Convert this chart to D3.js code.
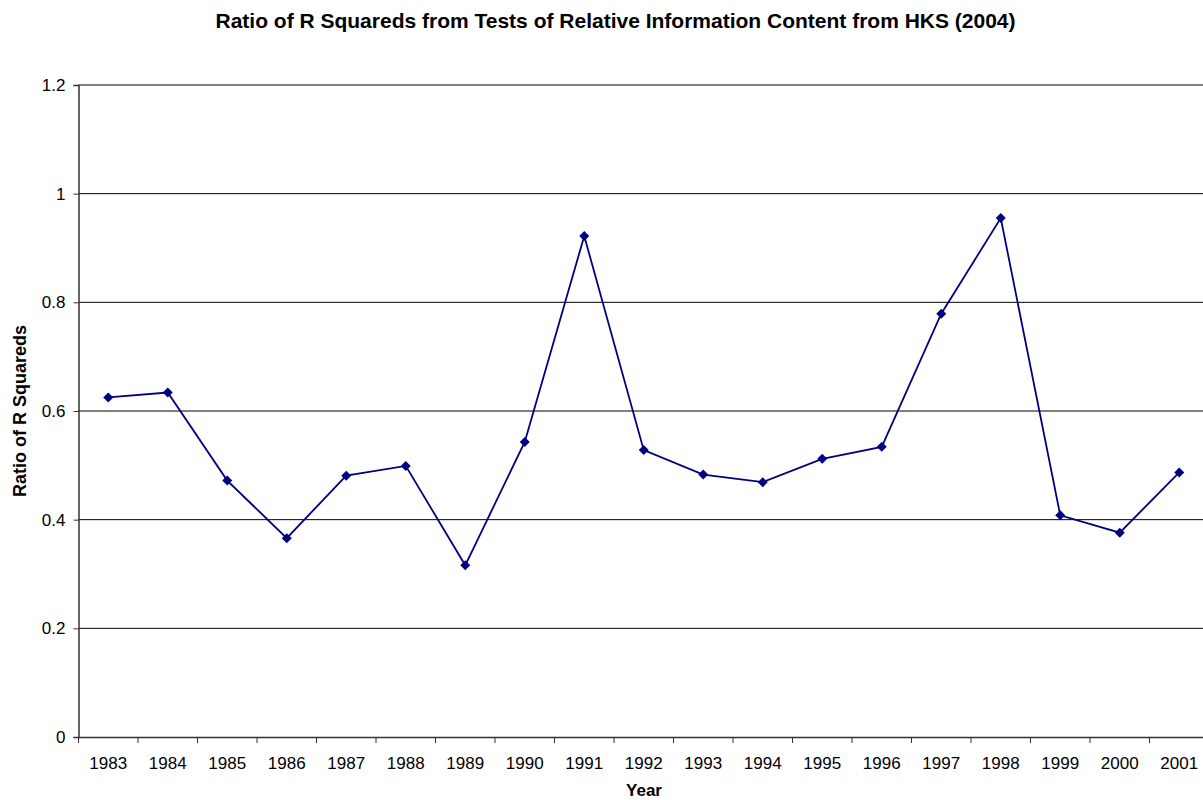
<!DOCTYPE html>
<html>
<head>
<meta charset="utf-8">
<script src="https://cdn.jsdelivr.net/npm/d3@7"></script>
<style>
  body { margin: 0; background: #fff; }
  svg { font-family: "Liberation Sans", Arial, sans-serif; }
</style>
</head>
<body>
<div id="graph"></div>
<script>
// values
var years = ["1983","1984","1985","1986","1987","1988","1989","1990","1991","1992",
             "1993","1994","1995","1996","1997","1998","1999","2000","2001"];
var ratios = [0.625, 0.634, 0.472, 0.366, 0.481, 0.499, 0.316, 0.543, 0.922, 0.528,
              0.483, 0.469, 0.512, 0.534, 0.779, 0.955, 0.408, 0.376, 0.487];
var yTicks = [0, 0.2, 0.4, 0.6, 0.8, 1, 1.2];

var w = 1203, h = 800
var mLeft = 78.5, mTop = 85, plotH = 652, band = 59.5
var plotW = band * years.length

var svg = d3.select('#graph')
  .append('svg')
  .attr("width", w)
  .attr("height", h)

var x = d3.scaleBand()
  .domain(years)
  .range([mLeft, mLeft + plotW])

var y = d3.scaleLinear()
  .domain([0, 1.2])
  .range([mTop + plotH, mTop])

// gridlines
svg.append("g").selectAll("line")
  .data(yTicks.filter(d => d > 0))
  .enter().append("line")
  .attr("x1", mLeft)
  .attr("x2", mLeft + plotW)
  .attr("y1", d => y(d))
  .attr("y2", d => y(d))
  .style("stroke", "#000")
  .style("stroke-width", 1)

// y axis
var yAxis = svg.append("g")
  .attr("transform", "translate(" + mLeft + ",0)")
  .call(d3.axisLeft(y).tickValues(yTicks).tickSize(5).tickPadding(8).tickFormat(d3.format("")))
yAxis.select(".domain").style("stroke", "#333").style("stroke-width", 1.5)
yAxis.selectAll(".tick line").style("stroke", "#333")
yAxis.selectAll("text").style("font-size", "17px").style("fill", "#000")

// x axis, ticks at band boundaries
var xAxis = svg.append("g")
  .attr("transform", "translate(0," + (mTop + plotH) + ")")
  .call(d3.axisBottom(x).tickSize(0).tickPadding(20))
xAxis.select(".domain").style("stroke", "#333").style("stroke-width", 1.5)
xAxis.selectAll("text").style("font-size", "17px").style("fill", "#000")

svg.append("g").selectAll("line")
  .data(years)
  .enter().append("line")
  .attr("x1", d => x(d))
  .attr("x2", d => x(d))
  .attr("y1", mTop + plotH)
  .attr("y2", mTop + plotH + 6)
  .style("stroke", "#333")
  .style("stroke-width", 1)

// line
var line = d3.line()
  .x((d, i) => x(years[i]) + band / 2)
  .y(d => y(d))

svg.append("path")
  .datum(ratios)
  .attr("d", line)
  .style("fill", "none")
  .style("stroke", "#000080")
  .style("stroke-width", 1.8)

svg.append("g").selectAll("path")
  .data(ratios)
  .enter().append("path")
  .attr("d", d3.symbol().type(d3.symbolSquare).size(50))
  .attr("transform", (d, i) => "translate(" + (x(years[i]) + band / 2) + "," + y(d) + ") rotate(45)")
  .style("fill", "#000080")

// titles
svg.append("text")
  .attr("x", 615.5)
  .attr("y", 28)
  .attr("text-anchor", "middle")
  .style("font-size", "21px")
  .style("font-weight", "bold")
  .text("Ratio of R Squareds from Tests of Relative Information Content from HKS (2004)")

svg.append("text")
  .attr("x", 644)
  .attr("y", 796)
  .attr("text-anchor", "middle")
  .style("font-size", "17px")
  .style("font-weight", "bold")
  .text("Year")

svg.append("text")
  .attr("transform", "translate(26," + (mTop + plotH / 2) + ") rotate(-90)")
  .attr("text-anchor", "middle")
  .style("font-size", "18px")
  .style("font-weight", "bold")
  .text("Ratio of R Squareds")
</script>
</body>
</html>
